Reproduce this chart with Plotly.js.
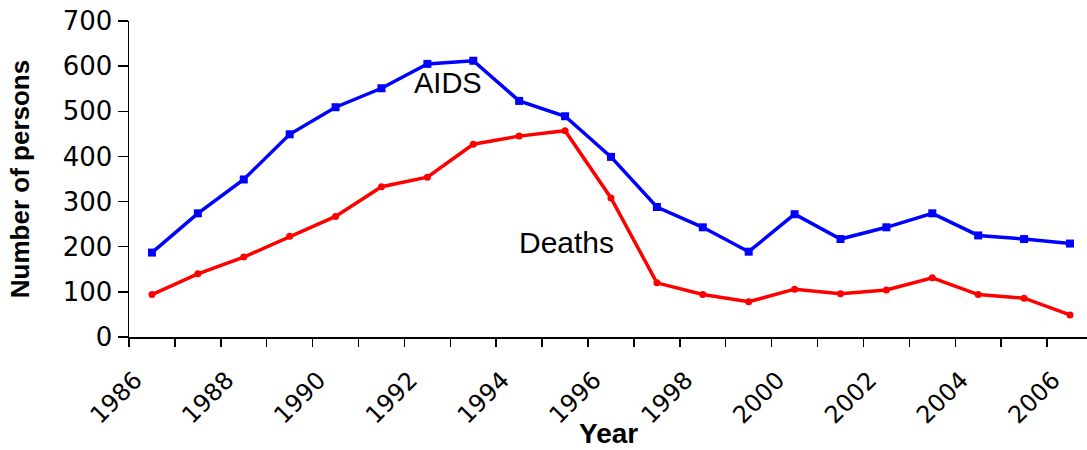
<!DOCTYPE html>
<html>
<head>
<meta charset="utf-8">
<script src="https://cdn.plot.ly/plotly-3.0.1.min.js"></script>
<style>html,body{margin:0;padding:0;background:#fff;overflow:hidden}#chart{width:1087px;height:450px}</style>
</head>
<body>
<div id="chart"></div>
<script>
const years = [1986,1987,1988,1989,1990,1991,1992,1993,1994,1995,1996,1997,1998,1999,2000,2001,2002,2003,2004,2005,2006];
const aids = [187,274,349,449,509,551,605,612,523,489,399,288,243,189,272,217,243,274,225,217,207];
const deaths = [94,140,177,223,267,333,354,427,445,457,308,120,94,78,106,96,104,131,94,86,49];
const tickYears = years;
const tickLabels = years.map(y => (y % 2 === 0 ? String(y) : ''));
const xTitle = 'Year';
const yTitle = 'Number of persons';

// categories are centred between year boundaries (Excel category axis)
const xPos = years.map(y => y + 0.5);

const traces = [
  {x: xPos, y: aids, name: 'AIDS', mode: 'lines+markers', type: 'scatter',
   line: {color: '#0000FF', width: 3.5}, marker: {symbol: 'square', size: 8, color: '#0000FF'}},
  {x: xPos, y: deaths, name: 'Deaths', mode: 'lines+markers', type: 'scatter',
   line: {color: '#FF0000', width: 3.5}, marker: {symbol: 'circle', size: 7, color: '#FF0000'}}
];

const layout = {
  width: 1087, height: 450,
  margin: {l: 129, r: 0, t: 21, b: 113},
  paper_bgcolor: '#fff', plot_bgcolor: '#fff',
  showlegend: false,
  font: {family: 'DejaVu Sans, Verdana, sans-serif', color: '#000'},
  xaxis: {
    range: [1986, 2006.87], tickmode: 'array', tickvals: tickYears, ticktext: tickLabels,
    tickangle: -45, ticks: 'outside', ticklen: 8, tickwidth: 1.5, tickcolor: '#000',
    ticklabelstandoff: 10, ticklabelshift: 6,
    showline: true, linecolor: '#000', linewidth: 1.5, showgrid: false, zeroline: false,
    tickfont: {size: 24, family: 'DejaVu Sans, Verdana, sans-serif'},
    automargin: false
  },
  yaxis: {
    range: [0, 700], dtick: 100, ticks: 'outside', ticklen: 10, tickwidth: 1.5, tickcolor: '#000',
    showline: true, linecolor: '#000', linewidth: 1.5, showgrid: false, zeroline: false,
    tickfont: {size: 26, family: 'DejaVu Sans, Verdana, sans-serif'},
    automargin: false,
    title: {text: yTitle, standoff: 25, font: {size: 26, family: 'Liberation Sans, Arial, sans-serif', weight: 'bold'}}
  },
  annotations: [
    {x: 1992.95, y: 563, xref: 'x', yref: 'y', text: 'AIDS', showarrow: false,
     font: {size: 29, family: 'Liberation Sans, Arial, sans-serif', color: '#000'}},
    {x: 1995.52, y: 210, xref: 'x', yref: 'y', text: 'Deaths', showarrow: false,
     font: {size: 30, family: 'Liberation Sans, Arial, sans-serif', color: '#000'}},
    {x: 0.5, y: -0.304, xref: 'paper', yref: 'paper', xanchor: 'center', yanchor: 'middle',
     text: '<b>' + xTitle + '</b>', showarrow: false, borderpad: 0,
     font: {size: 28, family: 'Liberation Sans, Arial, sans-serif', color: '#000'}}
  ]
};

Plotly.newPlot('chart', traces, layout, {displayModeBar: false, staticPlot: true});
</script>
</body>
</html>
